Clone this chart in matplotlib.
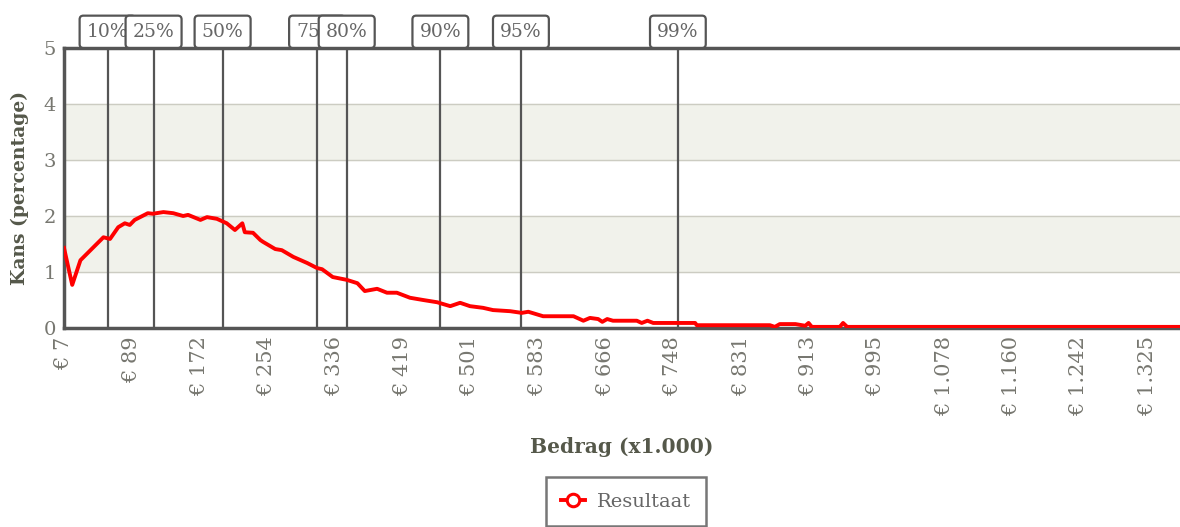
"""Kansverdeling van het resultaat met percentielen."""

import matplotlib

matplotlib.use("Agg")
import matplotlib.pyplot as plt
from matplotlib.lines import Line2D

# bedrag (x1.000) en kans (percentage)
bedrag = [7, 17, 27, 42, 55, 63, 73, 81, 87, 93, 109, 115, 128, 140, 152, 158,
          173, 181, 193, 205, 215, 224, 227, 237, 246, 249, 264, 272, 286, 303,
          315, 321, 334, 351, 364, 373, 388, 400, 412, 428, 444, 461, 477, 489,
          501, 517, 529, 550, 564, 572, 590, 627, 639, 647, 657, 662, 668, 675,
          704, 710, 717, 724, 769, 775, 777, 866, 872, 878, 897, 909, 913, 917,
          951, 955, 960, 1100, 1365]
kans = [1.43, 0.77, 1.21, 1.43, 1.62, 1.59, 1.80, 1.87, 1.84, 1.93, 2.05, 2.04,
        2.07, 2.05, 2.00, 2.02, 1.93, 1.98, 1.95, 1.87, 1.75, 1.87, 1.71, 1.70,
        1.57, 1.54, 1.41, 1.39, 1.27, 1.16, 1.07, 1.05, 0.91, 0.86, 0.80, 0.66,
        0.70, 0.63, 0.63, 0.54, 0.50, 0.46, 0.39, 0.45, 0.39, 0.36, 0.32, 0.30,
        0.27, 0.29, 0.21, 0.21, 0.13, 0.18, 0.16, 0.11, 0.16, 0.13, 0.13, 0.09,
        0.13, 0.09, 0.09, 0.09, 0.05, 0.05, 0.02, 0.07, 0.07, 0.04, 0.09, 0.02,
        0.02, 0.09, 0.02, 0.02, 0.02]

percentiel_labels = ["10%", "25%", "50%", "75%", "80%", "90%", "95%", "99%"]
percentiel_waarden = [60, 116, 200, 315, 351, 465, 563, 754]

tick_waarden = [7, 89, 172, 254, 336, 419, 501, 583, 666, 748, 831, 913, 995,
                1078, 1160, 1242, 1325]
tick_labels = ["€ 7", "€ 89", "€ 172", "€ 254", "€ 336", "€ 419", "€ 501",
               "€ 583", "€ 666", "€ 748", "€ 831", "€ 913", "€ 995", "€ 1.078",
               "€ 1.160", "€ 1.242", "€ 1.325"]

plt.rcParams["font.family"] = ["DejaVu Serif"]

GRIJS = "#555555"
TEKST = "#777770"
LABEL = "#55584a"
ROOD = "#ff0000"

fig = plt.figure(figsize=(11.8, 5.27), dpi=100)
ax = fig.add_axes([64 / 1180, 1 - 328 / 527, 1 - 64 / 1180, 280 / 527])

ax.set_xlim(7, 1365)
ax.set_ylim(0, 5)

# afwisselende banden
for lo, hi in [(1, 2), (3, 4)]:
    ax.axhspan(lo, hi, color="#f1f2eb", zorder=0)
for y in [1, 2, 3, 4]:
    ax.axhline(y, color="#ccccc2", linewidth=1, zorder=1)

# percentielen, latere labels liggen over eerdere
for i, (lab, val) in enumerate(zip(percentiel_labels, percentiel_waarden)):
    ax.axvline(val, color=GRIJS, linewidth=1.6, zorder=2)
    ax.annotate(
        lab,
        xy=(val, 1),
        xycoords=("data", "axes fraction"),
        xytext=(0, 5.2),
        textcoords="offset points",
        ha="center",
        va="bottom",
        fontsize=13.5,
        color="#666666",
        annotation_clip=False,
        zorder=10 + i,
        bbox=dict(boxstyle="round,pad=0.38,rounding_size=0.2",
                  facecolor="white", edgecolor=GRIJS, linewidth=1.6),
    )

ax.plot(bedrag, kans, color=ROOD, linewidth=2.8, zorder=5)

for side in ["left", "bottom", "top"]:
    ax.spines[side].set_color(GRIJS)
    ax.spines[side].set_linewidth(2.5)
ax.spines["right"].set_visible(False)

ax.set_xticks(tick_waarden)
ax.set_xticklabels(tick_labels, rotation=90, fontsize=15, color=TEKST)
ax.set_yticks([0, 1, 2, 3, 4, 5])
ax.set_yticklabels(["0", "1", "2", "3", "4", "5"], fontsize=14, color=TEKST)
ax.tick_params(length=0, pad=6)

ax.set_ylabel("Kans (percentage)", fontsize=13.5, fontweight="bold",
              color=LABEL, labelpad=10)
ax.set_xlabel("Bedrag (x1.000)", fontsize=14.5, fontweight="bold",
              color=LABEL, labelpad=15)

handle = Line2D([], [], color=ROOD, linewidth=2.8, marker="o", markersize=9,
                markerfacecolor="white", markeredgewidth=2.2)
leg = ax.legend(
    [handle],
    ["Resultaat"],
    loc="upper center",
    bbox_to_anchor=(626 / 1180, 1 - 477 / 527),
    bbox_transform=fig.transFigure,
    borderaxespad=0,
    numpoints=1,
    fontsize=14,
    fancybox=False,
    edgecolor=GRIJS,
    handlelength=1.2,
    handletextpad=0.6,
    borderpad=0.8,
)
leg.get_frame().set_linewidth(1.8)
for t in leg.get_texts():
    t.set_color("#666666")

plt.savefig("out.png", dpi=100)
plt.close()
